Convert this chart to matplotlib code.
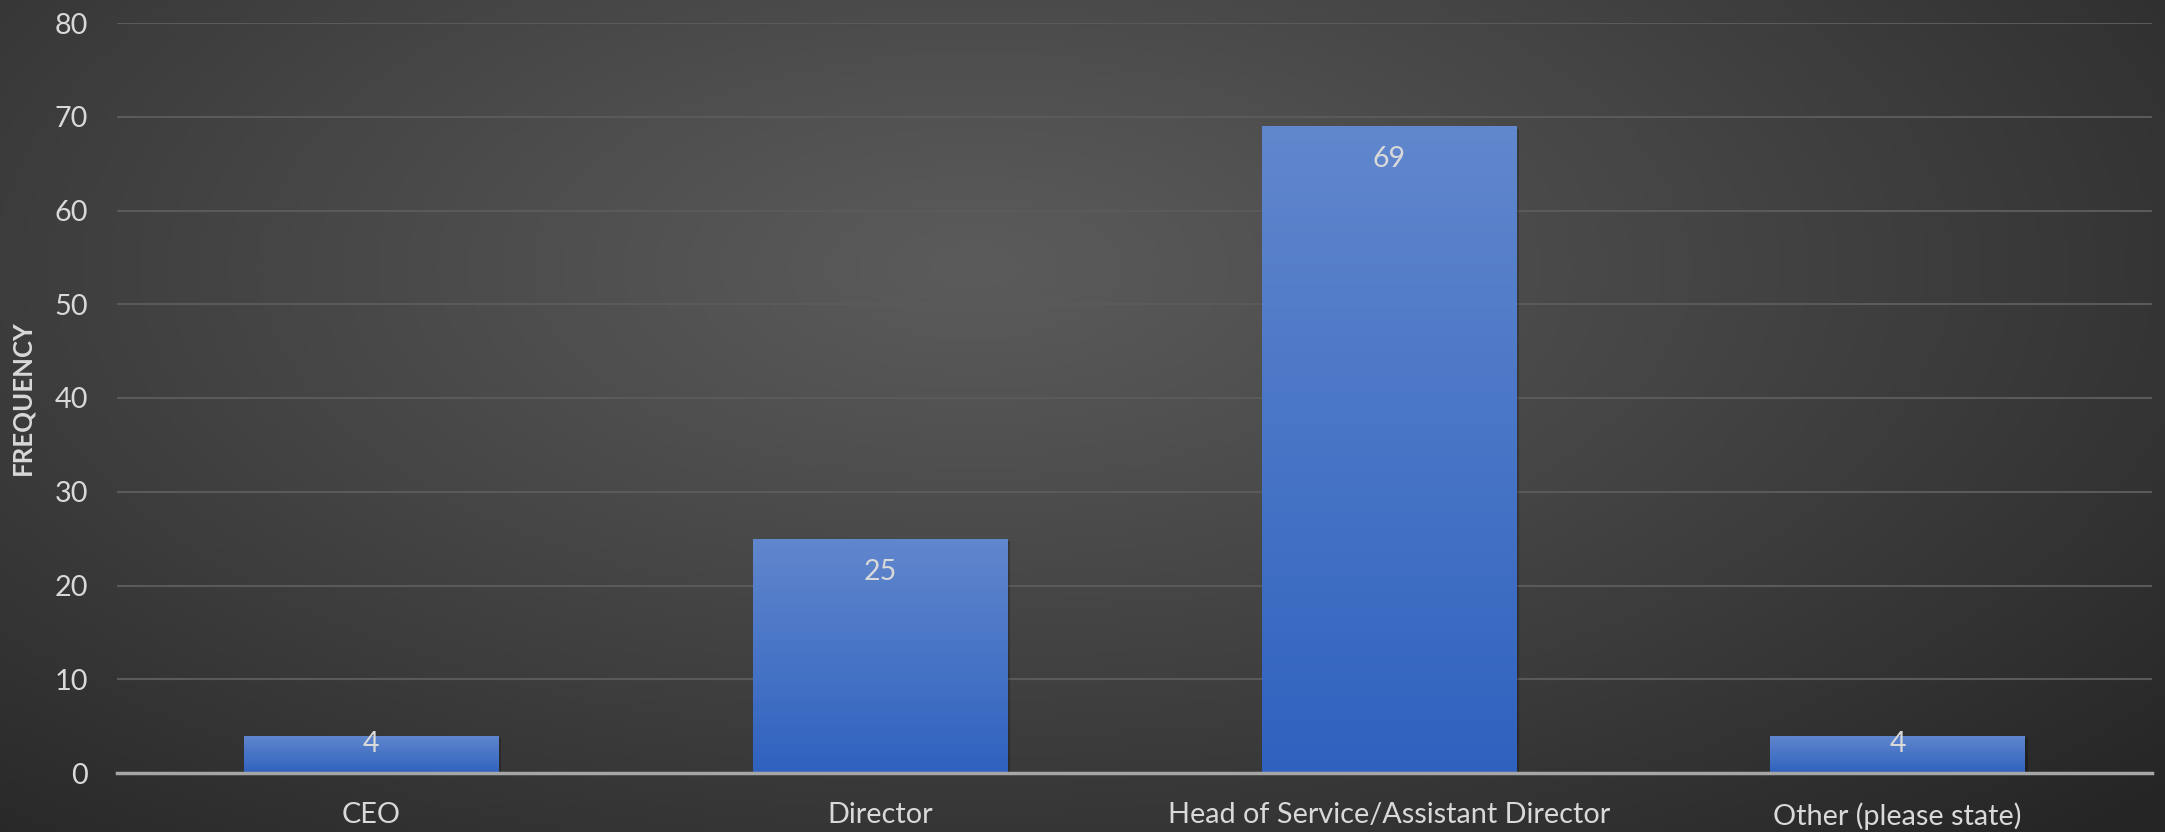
import matplotlib.pyplot as plt
import matplotlib.patheffects as pe
import numpy as np
from matplotlib.colors import LinearSegmentedColormap

categories = ["CEO", "Director", "Head of Service/Assistant Director", "Other (please state)"]
frequency = [4, 25, 69, 4]
y_ticks = [0, 10, 20, 30, 40, 50, 60, 70, 80]

plt.rcParams['font.family'] = ['Lato', 'DejaVu Sans']
text_col = '#d9d9d9'

fig = plt.figure(figsize=(21.65, 8.32), dpi=100)

# radial background, lighter towards the upper middle
bg = fig.add_axes([0, 0, 1, 1], zorder=-10)
gx, gy = np.meshgrid(np.linspace(0, 1, 600), np.linspace(0, 1, 240))
r = np.sqrt(((gx - 0.45) / 0.75) ** 2 + ((gy - 0.68) / 0.95) ** 2)
r = np.clip(r, 0, 1)
c0, c1 = np.array([0x5b, 0x5b, 0x5b]) / 255, np.array([0x25, 0x25, 0x25]) / 255
img = c0 + (c1 - c0) * r[..., None] ** 1.1
bg.imshow(img, origin='lower', extent=(0, 1, 0, 1), aspect='auto')
bg.axis('off')

ax = fig.add_axes([117 / 2165, 59 / 832, 2035 / 2165, 750 / 832])
ax.patch.set_alpha(0)
x = np.arange(len(categories))
ax.set_xlim(-0.5, len(categories) - 0.5)
ax.set_ylim(0, 80)

bars = ax.bar(x, frequency, width=0.5, color='#2f62bf', zorder=2,
              path_effects=[pe.SimplePatchShadow(offset=(2, -2), shadow_rgbFace='black', alpha=0.22),
                            pe.Normal()])

grad = LinearSegmentedColormap.from_list('bar', ['#2f62bf', '#6187cd'])
ramp = np.linspace(0, 1, 256).reshape(-1, 1)
for b in bars:
    im = ax.imshow(ramp, cmap=grad, origin='lower', aspect='auto', zorder=3,
                   extent=(b.get_x(), b.get_x() + b.get_width(), 0, b.get_height()))
    im.set_clip_path(b)

for xi, v in zip(x, frequency):
    off = -24 if v > 10 else -6
    ax.annotate(str(v), (xi, v), xytext=(0, off), textcoords='offset points',
                ha='center', va='center', color=text_col, fontsize=20.5, zorder=5)

ax.set_ylim(0, 80)
ax.set_xlim(-0.5, len(categories) - 0.5)
ax.set_yticks(y_ticks)
ax.set_xticks(x)
ax.set_xticklabels(categories)
ax.yaxis.grid(True, color='#5a5a5a', linewidth=1.5, zorder=0)
ax.set_axisbelow(True)
for s in ['top', 'right', 'left']:
    ax.spines[s].set_visible(False)
ax.spines['bottom'].set_color('#a6a6a6')
ax.spines['bottom'].set_linewidth(2.5)
ax.spines['bottom'].set_zorder(4)
ax.tick_params(axis='both', length=0, colors=text_col, labelsize=20.8)
ax.tick_params(axis='y', pad=21)
ax.tick_params(axis='x', pad=21)
ax.set_ylabel('FREQUENCY', color=text_col, fontsize=18.5, fontweight='bold', labelpad=14)

fig.savefig('out.png', dpi=100)
